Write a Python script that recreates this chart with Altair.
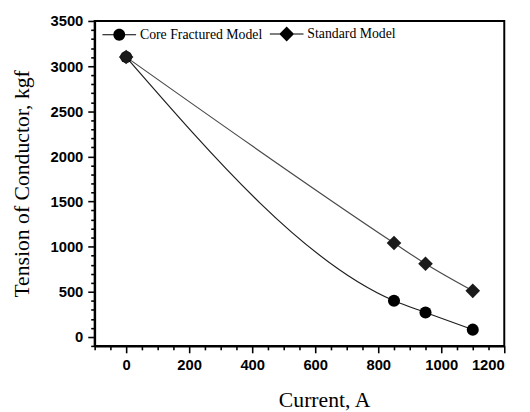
import altair as alt
import pandas as pd

current = [0, 850, 950, 1100]
core = [3100, 400, 270, 80]
standard = [3100, 1040, 810, 510]
series_names = ["Core Fractured Model", "Standard Model"]
line_colors = ["#1e1e1e", "#4a4a4a"]

x_ticks = list(range(-100, 1201, 50))
y_ticks = list(range(-100, 3501, 100))
x_label_step = 200
y_label_step = 500

df = pd.DataFrame({
    "current": current + current,
    "tension": core + standard,
    "series": [series_names[0]] * len(current) + [series_names[1]] * len(current),
})

xs = alt.Scale(domain=[-100, 1200], nice=False, zero=False)
ys = alt.Scale(domain=[-100, 3500], nice=False, zero=False)

LBL = dict(labelFont="Liberation Sans", labelFontWeight="bold", labelFontSize=15,
           labelColor="black", tickColor="black", domainColor="black")
TTL = dict(titleFont="Liberation Serif", titleFontSize=22, titleFontWeight="normal",
           titleColor="black")

x_axis = alt.Axis(
    values=x_ticks, tickCount=500, format="d", title="Current, A", orient="bottom",
    tickSize={"condition": {"test": f"datum.value % {x_label_step} === 0", "value": 7}, "value": 4},
    tickWidth=1.6, domainWidth=2, labelPadding=5, grid=False,
    labelExpr=f"datum.value >= 0 && datum.value % {x_label_step} === 0 ? datum.label : ''",
    labelOverlap=False, titleX=233, titleY=62, titleBaseline="alphabetic", **LBL, **TTL)
y_axis = alt.Axis(
    values=y_ticks, tickCount=500, format="d", title="Tension of Conductor, kgf", orient="left",
    tickSize={"condition": {"test": f"datum.value % {y_label_step} === 0", "value": 7}, "value": 4},
    tickWidth=1.6, domainWidth=2, labelPadding=5, grid=False,
    labelExpr=f"datum.value >= 0 && datum.value % {y_label_step} === 0 ? datum.label : ''",
    labelOverlap=False, titleX=-74, titleY=165, titleBaseline="middle", titleAngle=-90,
    **LBL, **TTL)

X = alt.X("current:Q", scale=xs, axis=x_axis)
Y = alt.Y("tension:Q", scale=ys, axis=y_axis)

def series_line(i):
    return alt.Chart(df).transform_filter(
        alt.datum.series == series_names[i]
    ).mark_line(interpolate="monotone", strokeWidth=1.2, color=line_colors[i]).encode(x=X, y=Y)

line_core = series_line(0)
line_std = series_line(1)

circles = alt.Chart(df).transform_filter(
    alt.datum.series == series_names[0]
).mark_point(shape="circle", filled=True, size=150, color="black", opacity=1).encode(x=X, y=Y)

diamonds = alt.Chart(df).transform_filter(
    alt.datum.series == series_names[1]
).mark_point(shape="diamond", filled=True, size=220, color="#1a1a1a", opacity=1).encode(x=X, y=Y)

# legend glyphs: filled path = short line bars + marker
circle_leg = ("M-2.85,-0.1H-0.9V0.1H-2.85Z M0.9,-0.1H2.85V0.1H0.9Z "
              "M1,0A1,1 0 1,1 -1,0A1,1 0 1,1 1,0Z")
diamond_leg = ("M-2.85,-0.1H-1.1V0.1H-2.85Z M1.1,-0.1H2.85V0.1H1.1Z "
               "M0,-1.25L1.25,0L0,1.25L-1.25,0Z")

legend_layer = alt.Chart(df).mark_point(
    filled=True, color="black", opacity=0
).encode(
    x=X, y=Y,
    shape=alt.Shape("series:N", scale=alt.Scale(domain=series_names, range=[circle_leg, diamond_leg]),
                    legend=alt.Legend(orient="none", legendX=18, legendY=6, direction="horizontal",
                                      title=None, symbolSize=144, symbolFillColor="black",
                                      symbolOpacity=1, labelFont="Liberation Serif",
                                      labelFontSize=14, labelColor="black", labelOffset=14,
                                      columnPadding=3, padding=0)),
)

chart = alt.layer(line_core, line_std, circles, diamonds, legend_layer).properties(
    width=416, height=330,
    autosize=alt.AutoSizeParams(type="none"),
    padding={"left": 88, "top": 10, "right": 18, "bottom": 66},
    background="white",
).configure_view(stroke="black", strokeWidth=2)

chart.save("out.html", embed_options={"renderer": "svg", "actions": False})
